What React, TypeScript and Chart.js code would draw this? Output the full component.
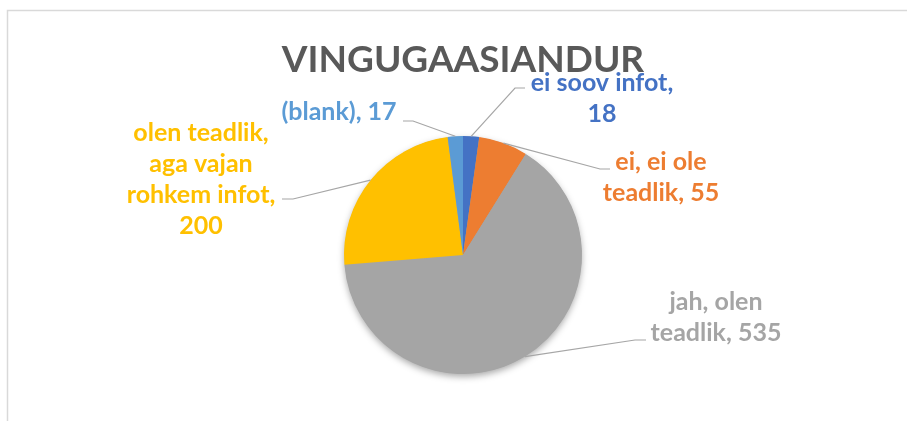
import React, { useEffect, useRef } from "react";
import { Chart, registerables } from "chart.js";

Chart.register(...registerables);

const title = "VINGUGAASIANDUR";
const categories = [
  "ei soov infot",
  "ei, ei ole teadlik",
  "jah, olen teadlik",
  "olen teadlik, aga vajan rohkem infot",
  "(blank)",
];
const values = [18, 55, 535, 200, 17];
const colors = ["#4472C4", "#ED7D31", "#A5A5A5", "#FFC000", "#5B9BD5"];

// label layout: block centre, elbow and line end, as offsets (px) from the pie centre
const labelWrap = [170, 140, 150, 170, 999];
const labelLayout = [
  { cx: 139, cy: -157, ex: 52, ey: -167, lx: 62 },
  { cx: 198, cy: -78, ex: 137, ey: -86, lx: 147 },
  { cx: 253, cy: 62, ex: 172, ey: 85, lx: 183 },
  { cx: -262, cy: -76, ex: -170, ey: -56, lx: -181 },
  { cx: -124, cy: -143, ex: -50, ey: -134, lx: -60 },
];

const FONT = "Lato, 'Open Sans', sans-serif";
const LABEL_SIZE = 25;
const LINE_H = 31;

function wrap(ctx: CanvasRenderingContext2D, text: string, maxW: number): string[] {
  const words = text.split(" ");
  const lines: string[] = [];
  let cur = "";
  for (const w of words) {
    const t = cur ? cur + " " + w : w;
    if (cur && ctx.measureText(t).width > maxW) {
      lines.push(cur);
      cur = w;
    } else cur = t;
  }
  if (cur) lines.push(cur);
  return lines;
}

const decorPlugin = {
  id: "decor",
  beforeDraw(chart: any) {
    const ctx = chart.ctx as CanvasRenderingContext2D;
    ctx.save();
    ctx.fillStyle = "#ffffff";
    ctx.fillRect(0, 0, chart.width, chart.height);
    ctx.strokeStyle = "#d9d9d9";
    ctx.lineWidth = 1.5;
    ctx.strokeRect(7.5, 10.5, chart.width + 20, chart.height + 20);
    ctx.fillStyle = "#595959";
    ctx.font = `bold 37px ${FONT}`;
    ctx.textAlign = "center";
    ctx.textBaseline = "alphabetic";
    ctx.fillText(title, 463, 72);
    ctx.restore();
  },
  beforeDatasetsDraw(chart: any) {
    const meta = chart.getDatasetMeta(0);
    const arc = meta.data[0];
    if (!arc) return;
    const { x, y, outerRadius } = arc.getProps(["x", "y", "outerRadius"], true);
    const ctx = chart.ctx as CanvasRenderingContext2D;
    ctx.save();
    ctx.shadowColor = "rgba(0,0,0,0.35)";
    ctx.shadowBlur = 7;
    ctx.shadowOffsetY = 3;
    ctx.fillStyle = "#A5A5A5";
    ctx.beginPath();
    ctx.arc(x, y, outerRadius - 0.5, 0, Math.PI * 2);
    ctx.fill();
    ctx.restore();
  },
  afterDatasetsDraw(chart: any) {
    const meta = chart.getDatasetMeta(0);
    const ctx = chart.ctx as CanvasRenderingContext2D;
    ctx.save();
    ctx.font = `bold ${LABEL_SIZE}px ${FONT}`;
    meta.data.forEach((el: any, i: number) => {
      const { x, y, startAngle, endAngle, outerRadius } = el.getProps(
        ["x", "y", "startAngle", "endAngle", "outerRadius"],
        true
      );
      const mid = (startAngle + endAngle) / 2;
      const px = x + Math.cos(mid) * outerRadius;
      const py = y + Math.sin(mid) * outerRadius;
      const L = labelLayout[i];
      ctx.strokeStyle = "#a6a6a6";
      ctx.lineWidth = 1.2;
      ctx.beginPath();
      ctx.moveTo(px, py);
      ctx.lineTo(x + L.ex, y + L.ey);
      ctx.lineTo(x + L.lx, y + L.ey);
      ctx.stroke();
      const lines = wrap(ctx, `${categories[i]}, ${values[i]}`, labelWrap[i]);
      ctx.fillStyle = colors[i];
      ctx.textAlign = "center";
      ctx.textBaseline = "middle";
      const top = y + L.cy - ((lines.length - 1) * LINE_H) / 2;
      lines.forEach((ln, k) => ctx.fillText(ln, x + L.cx, top + k * LINE_H));
    });
    ctx.restore();
  },
};

export default function App() {
  const ref = useRef<HTMLCanvasElement>(null);
  useEffect(() => {
    const chart = new Chart(ref.current!, {
      type: "pie",
      data: {
        labels: categories,
        datasets: [
          {
            data: values,
            backgroundColor: colors,
            borderWidth: 0,
          },
        ],
      },
      options: {
        animation: false,
        responsive: false,
        layout: { padding: { left: 344, right: 325, top: 136, bottom: 47 } },
        plugins: {
          legend: { display: false },
          title: { display: false },
          tooltip: { enabled: false },
        },
      },
      plugins: [decorPlugin],
    });
    return () => chart.destroy();
  }, []);
  return (
    <div style={{ position: "fixed", left: 0, top: 0, width: 907, height: 421 }}>
      <canvas ref={ref} width={907} height={421} />
    </div>
  );
}
